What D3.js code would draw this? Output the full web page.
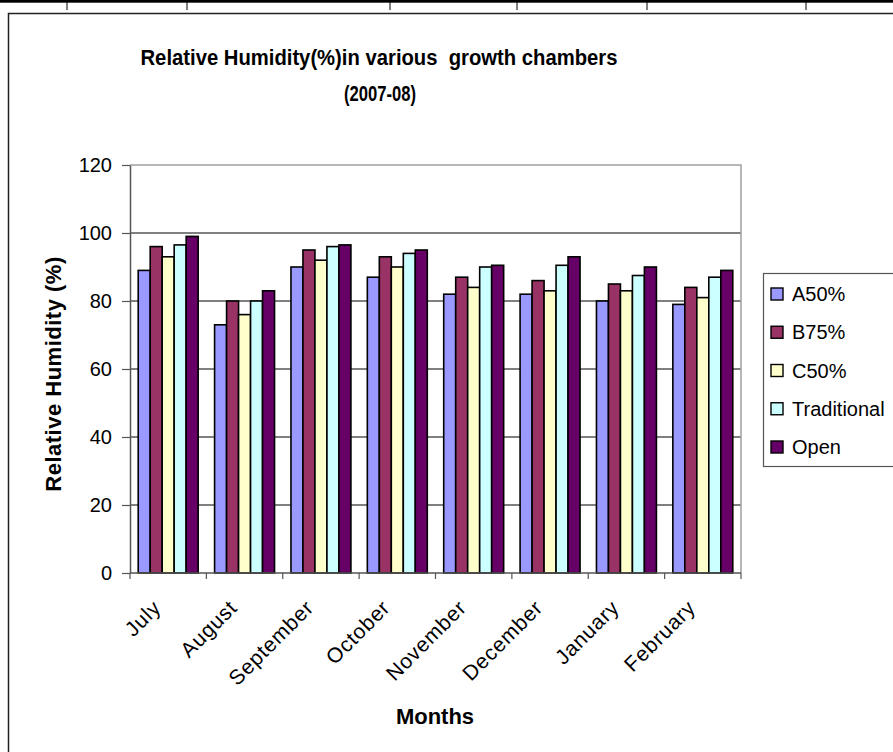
<!DOCTYPE html>
<html>
<head>
<meta charset="utf-8">
<script src="https://cdn.jsdelivr.net/npm/d3@7"></script>
<style>
  html, body { margin: 0; padding: 0; background: #fff; }
  svg { display: block; }
  text { font-family: "Liberation Sans", Arial, sans-serif; fill: #000; }
</style>
</head>
<body>
<svg id="chart" width="893" height="752"></svg>
<script>
// Monthly relative humidity (%) per growth chamber, 2007-08
const months = ["July", "August", "September", "October", "November", "December", "January", "February"];
const seriesNames = ["A50%", "B75%", "C50%", "Traditional", "Open"];
const a50 = [89, 73, 90, 87, 82, 82, 80, 79];
const b75 = [96, 80, 95, 93, 87, 86, 85, 84];
const c50 = [93, 76, 92, 90, 84, 83, 83, 81];
const traditional = [96.5, 80, 96, 94, 90, 90.5, 87.5, 87];
const open = [99, 83, 96.5, 95, 90.5, 93, 90, 89];
const yTicks = [0, 20, 40, 60, 80, 100, 120];
const colors = ["#9999FF", "#993366", "#FFFFCC", "#CCFFFF", "#660066"];

const values = [a50, b75, c50, traditional, open];

const svg = d3.select("#chart");

// Table rule and cell separators above the chart frame
const tableCols = [67, 187, 390, 517, 647, 806];
svg.append("rect").attr("x", 0).attr("y", 0).attr("width", 893).attr("height", 2.7).attr("fill", "#000");
svg.selectAll("line.sep").data(tableCols).enter().append("line")
  .attr("class", "sep")
  .attr("x1", d => d).attr("x2", d => d)
  .attr("y1", 0).attr("y2", 10)
  .attr("stroke", "#000").attr("stroke-width", 1);

// Chart frame
svg.append("path")
  .attr("d", "M8.5,760 V13.5 H900")
  .attr("fill", "none").attr("stroke", "#222").attr("stroke-width", 1.5);

const plot = { left: 130, right: 741, top: 165, bottom: 573 };

const x = d3.scaleBand().domain(months)
  .range([plot.left, plot.right])
  .paddingInner(0.215).paddingOuter(0.1075);
const xs = d3.scaleBand().domain(seriesNames).range([0, x.bandwidth()]).padding(0);
const y = d3.scaleLinear().domain([0, 120]).range([plot.bottom, plot.top]);

// Horizontal gridlines
svg.selectAll("line.grid").data(yTicks.filter(t => t > 0 && t < 120)).enter().append("line")
  .attr("class", "grid")
  .attr("x1", plot.left).attr("x2", plot.right)
  .attr("y1", d => y(d)).attr("y2", d => y(d))
  .attr("stroke", "#000").attr("stroke-width", 1);

// Plot area border (top and right)
svg.append("path")
  .attr("d", `M${plot.left},${plot.top} H${plot.right} V${plot.bottom}`)
  .attr("fill", "none").attr("stroke", "#A0A0A0").attr("stroke-width", 1.5);

// Bars
const groups = svg.selectAll("g.month").data(months).enter().append("g")
  .attr("class", "month")
  .attr("transform", d => `translate(${x(d)},0)`);
groups.selectAll("rect").data((m, i) => seriesNames.map((s, k) => ({ s, k, v: values[k][i] })))
  .enter().append("rect")
  .attr("x", d => xs(d.s))
  .attr("y", d => y(d.v))
  .attr("width", xs.bandwidth())
  .attr("height", d => y(0) - y(d.v))
  .attr("fill", d => colors[d.k])
  .attr("stroke", "#000").attr("stroke-width", 1.6);

// Y axis
const yAxis = d3.axisLeft(y).tickValues(yTicks).tickSize(8).tickSizeOuter(0).tickPadding(10);
const gy = svg.append("g").attr("transform", `translate(${plot.left},0)`).call(yAxis);
gy.select(".domain").attr("stroke", "#555").attr("stroke-width", 1.5);
gy.selectAll(".tick line").attr("stroke", "#555").attr("stroke-width", 1.2);
gy.selectAll(".tick text")
  .style("font-family", "'Liberation Sans', Arial, sans-serif")
  .style("font-size", "20px").attr("fill", "#000");

// X axis with ticks at category boundaries
svg.append("line")
  .attr("x1", plot.left).attr("x2", plot.right)
  .attr("y1", plot.bottom).attr("y2", plot.bottom)
  .attr("stroke", "#555").attr("stroke-width", 1.5);
const bounds = months.map(m => x(m) - x.step() * x.paddingInner() / 2).concat([plot.right]);
svg.selectAll("line.xtick").data(bounds).enter().append("line")
  .attr("class", "xtick")
  .attr("x1", d => d).attr("x2", d => d)
  .attr("y1", plot.bottom).attr("y2", plot.bottom + 6)
  .attr("stroke", "#555").attr("stroke-width", 1.2);

svg.selectAll("text.xlab").data(months).enter().append("text")
  .attr("class", "xlab")
  .attr("text-anchor", "end")
  .attr("transform", d => `translate(${x(d) + x.bandwidth() / 2 - 6},${plot.bottom + 36}) rotate(-45)`)
  .style("font-size", "21px")
  .style("letter-spacing", "0.8px")
  .text(d => d);

// Titles
svg.append("text").attr("x", 379).attr("y", 65).attr("text-anchor", "middle")
  .attr("textLength", 477).attr("lengthAdjust", "spacingAndGlyphs")
  .style("font-size", "22px").style("font-weight", "bold")
  .style("white-space", "pre")
  .text("Relative Humidity(%)in various  growth chambers");
svg.append("text").attr("x", 380).attr("y", 101).attr("text-anchor", "middle")
  .attr("textLength", 72).attr("lengthAdjust", "spacingAndGlyphs")
  .style("font-size", "22px").style("font-weight", "bold")
  .text("(2007-08)");
svg.append("text").attr("x", 435).attr("y", 724).attr("text-anchor", "middle")
  .style("font-size", "22px").style("font-weight", "bold")
  .text("Months");
svg.append("text")
  .attr("transform", "translate(61,374) rotate(-90)")
  .attr("text-anchor", "middle")
  .style("font-size", "22px").style("font-weight", "bold")
  .style("letter-spacing", "0.5px")
  .text("Relative Humidity (%)");

// Legend
const legend = svg.append("g");
legend.append("rect").attr("x", 763.5).attr("y", 273.5).attr("width", 140).attr("height", 193)
  .attr("fill", "#fff").attr("stroke", "#555").attr("stroke-width", 1.2);
const legendY = d3.scalePoint().domain(seriesNames).range([294, 447]);
const items = legend.selectAll("g.item").data(seriesNames).enter().append("g")
  .attr("class", "item")
  .attr("transform", d => `translate(771,${legendY(d)})`);
items.append("rect").attr("x", 0).attr("y", -6).attr("width", 12).attr("height", 12)
  .attr("fill", (d, i) => colors[i]).attr("stroke", "#000").attr("stroke-width", 1.4);
items.append("text").attr("x", 21).attr("y", 7)
  .style("font-size", "20px")
  .text(d => d);
</script>
</body>
</html>
